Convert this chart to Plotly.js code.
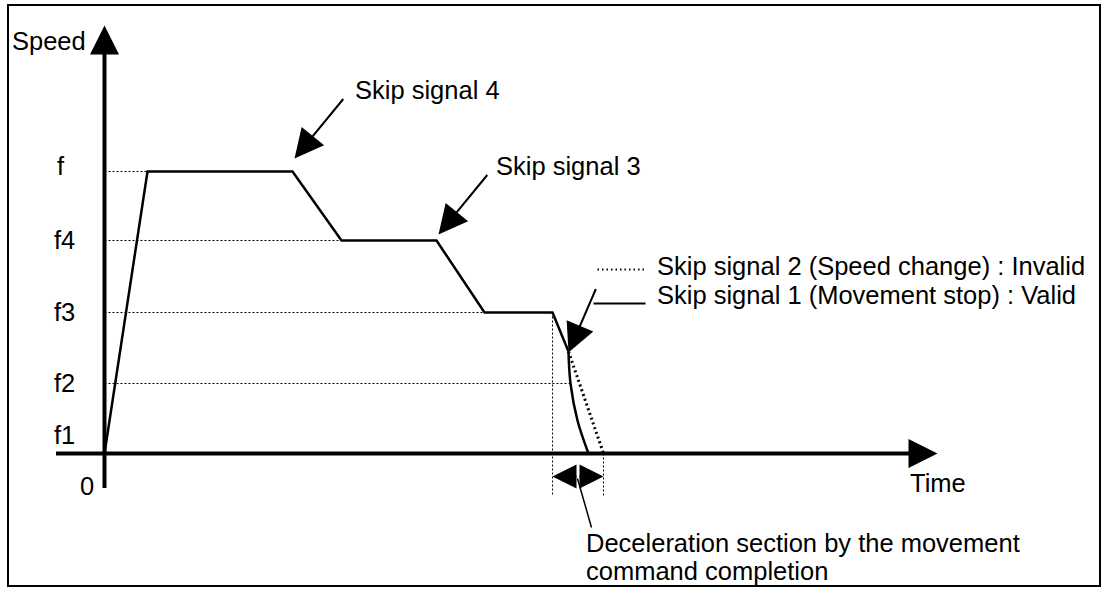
<!DOCTYPE html>
<html>
<head>
<meta charset="utf-8">
<script src="https://cdn.plot.ly/plotly-3.0.1.min.js"></script>
<style>
  html, body { margin: 0; padding: 0; background: #fff; }
  #chart { width: 1109px; height: 590px; }
</style>
</head>
<body>
<div id="chart"></div>
<script>
// speed levels (diagram units, 0 = time axis)
const levelNames = ['f', 'f4', 'f3', 'f2'];
const levelValues = [282, 213, 141, 70];
const levelEnds = [43, 237, 380, 466];   // where each dotted guide meets the profile

// speed profile (solid)
const profileTime = [0, 43, 188, 237, 332, 380, 448, 464];
const profileSpeed = [0, 282, 282, 213, 213, 141, 141, 102];

// skip signal 1 : movement stop (valid)
const stopTime = [464, 466, 473, 484];
const stopSpeed = [102, 70, 33, 0];

// skip signal 2 : speed change (invalid)
const changeTime = [464, 499];
const changeSpeed = [102, 0];

// deceleration section
const decelStart = 448;
const decelEnd = 499;

const FONT = 'Liberation Sans, Arial, sans-serif';
const FS = 25.5;

let traces = [];

// dotted guides for the speed levels
let gx = [], gy = [];
levelValues.forEach((v, i) => {
    gx.push(0, levelEnds[i], null);
    gy.push(v, v, null);
});
// vertical guides for the deceleration section
gx.push(decelStart, decelStart, null, decelEnd, decelEnd);
gy.push(profileSpeed[6], -42, null, 0, -42);
traces.push({x: gx, y: gy, mode: 'lines', line: {color: '#000', width: 1, dash: '2px,2px'}, hoverinfo: 'skip'});

traces.push({x: profileTime, y: profileSpeed, mode: 'lines', line: {color: '#000', width: 2.5}, hoverinfo: 'skip'});
traces.push({x: stopTime, y: stopSpeed, mode: 'lines', line: {color: '#000', width: 2.5, shape: 'spline'}, hoverinfo: 'skip'});
traces.push({x: changeTime, y: changeSpeed, mode: 'lines', line: {color: '#000', width: 3, dash: '2px,3px'}, hoverinfo: 'skip'});

// key samples next to the skip signal 1/2 texts
traces.push({x: [493, 540], y: [184, 184], mode: 'lines', line: {color: '#000', width: 2, dash: '1.5px,3px'}, hoverinfo: 'skip'});
traces.push({x: [489, 541], y: [150, 150], mode: 'lines', line: {color: '#000', width: 2}, hoverinfo: 'skip'});

function txt(x, y, text, anchor) {
    return {x: x, y: y, xref: 'x', yref: 'y', text: text, showarrow: false,
        xanchor: anchor || 'center', yanchor: 'middle', font: {family: FONT, size: FS, color: '#000'}};
}
function arrow(hx, hy, tx, ty, w, size) {
    return {x: hx, y: hy, ax: tx, ay: ty, xref: 'x', yref: 'y', axref: 'x', ayref: 'y',
        text: '', showarrow: true, arrowhead: 2, arrowwidth: w, arrowsize: size, arrowcolor: '#000', standoff: 0};
}

let annotations = [
    // axes
    arrow(0, 428, 0, -36, 4, 1.45),
    arrow(833, 0, -50, 0, 4, 1.45),
    txt(-95, 413, 'Speed', 'left'),
    txt(833, -29, 'Time'),
    txt(-18, -32, '0'),
    txt(-40, 19, 'f1'),
    // skip signal pointers
    arrow(190, 295, 240, 356, 2, 2.9),
    txt(248, 364, 'Skip signal 4', 'left'),
    arrow(334, 219, 384, 280, 2, 2.9),
    txt(389, 288, 'Skip signal 3', 'left'),
    arrow(464, 101, 492, 166, 2, 2.9),
    txt(550, 188, 'Skip signal 2 (Speed change) : Invalid', 'left'),
    txt(550, 159, 'Skip signal 1 (Movement stop) : Valid', 'left'),
    // deceleration section
    arrow(decelStart, -23, (decelStart + decelEnd) / 2, -23, 2, 2.4),
    arrow(decelEnd, -23, (decelStart + decelEnd) / 2, -23, 2, 2.4),
    txt(479, -89, 'Deceleration section by the movement', 'left'),
    txt(479, -117, 'command completion', 'left')
];
levelNames.forEach((n, i) => {
    annotations.push(txt(n === 'f' ? -44 : -40, levelValues[i] + (n === 'f' ? 6 : 1), n));
});

const layout = {
    width: 1109, height: 590,
    margin: {l: 0, r: 0, t: 0, b: 0},
    paper_bgcolor: '#fff', plot_bgcolor: '#fff',
    showlegend: false,
    // half-pixel offset keeps the thin dotted guides crisp
    xaxis: {range: [-104.5, 1004.5], visible: false, fixedrange: true},
    yaxis: {range: [-136.5, 453.5], visible: false, fixedrange: true},
    annotations: annotations,
    shapes: [
        {type: 'rect', xref: 'paper', yref: 'paper', x0: 8 / 1109, x1: 1100 / 1109, y0: 1 - 586 / 590, y1: 1 - 5 / 590,
            line: {color: '#000', width: 2}},
        {type: 'line', xref: 'x', yref: 'y', x0: 473, y0: -25, x1: 487, y1: -74, line: {color: '#000', width: 1.5}}
    ]
};

Plotly.newPlot('chart', traces, layout, {staticPlot: true, displayModeBar: false});
</script>
</body>
</html>
